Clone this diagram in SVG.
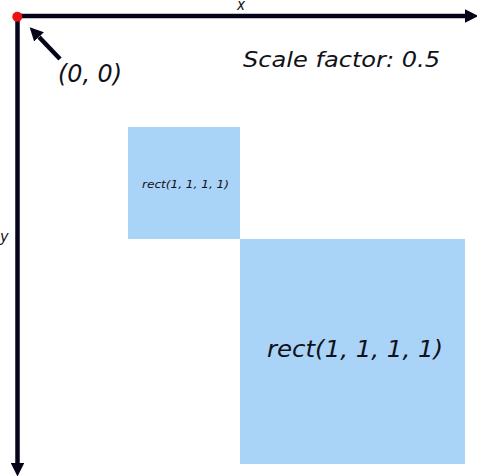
<svg xmlns="http://www.w3.org/2000/svg" width="477" height="476" viewBox="0 0 477 476">
<style>
.t{font-family:"DejaVu Sans Condensed","DejaVu Sans",sans-serif;font-style:italic;fill:#111118}
.ax{stroke:#05051a;stroke-width:4.5;fill:none}
.r{fill:#aad3f8}
</style>
<defs>
<marker id="ah" viewBox="0 0 10 10" refX="0" refY="5" markerWidth="3" markerHeight="3" orient="auto" markerUnits="strokeWidth">
<path d="M0,0 L10,5 L0,10 z" fill="#05051a"/>
</marker>
</defs>
<g id="rect-small">
<rect class="r" x="128" y="127" width="112" height="112"/>
<text class="t" x="142" y="188" font-size="11" textLength="87" lengthAdjust="spacingAndGlyphs">rect(1, 1, 1, 1)</text>
</g>
<g id="rect-large">
<rect class="r" x="240" y="239" width="225" height="225"/>
<text class="t" x="267" y="357" font-size="22.5" textLength="176" lengthAdjust="spacingAndGlyphs">rect(1, 1, 1, 1)</text>
</g>
<g id="connectors">
<line class="ax" x1="17" y1="16" x2="465" y2="16" marker-end="url(#ah)"/>
<line class="ax" x1="17.5" y1="16" x2="17.5" y2="463" marker-end="url(#ah)"/>
<line class="ax" x1="60" y1="59" x2="39" y2="37" marker-end="url(#ah)"/>
</g>
<g id="origin">
<circle cx="17.3" cy="16.7" r="5" fill="#ee1111"/>
<text class="t" x="58" y="82" font-size="25" textLength="64" lengthAdjust="spacingAndGlyphs">(0, 0)</text>
</g>
<g id="labels">
<text class="t" x="237" y="10" font-size="15">x</text>
<text class="t" x="0" y="242" font-size="16">y</text>
<text class="t" x="243" y="67" font-size="21.5" textLength="197" lengthAdjust="spacingAndGlyphs">Scale factor: 0.5</text>
</g>
</svg>
